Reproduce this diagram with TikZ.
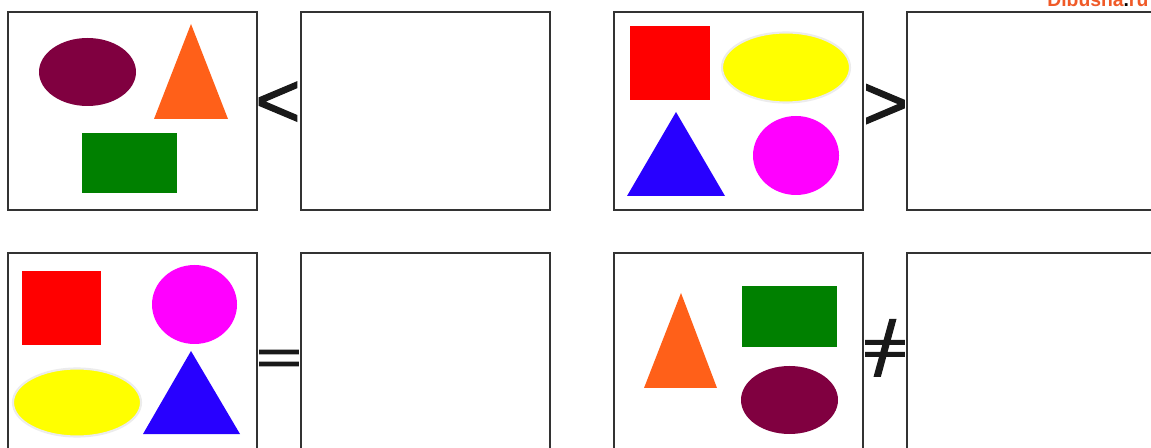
\documentclass[tikz,border=0pt]{standalone}
\usepackage{fontspec}
\newfontfamily\symfont[FakeBold=1.5]{Liberation Sans}
\newfontfamily\barfont[FakeBold=3]{Liberation Sans}
\newfontfamily\markfont{Liberation Sans}
\definecolor{shmaroon}{RGB}{128,0,64}
\definecolor{shorange}{RGB}{255,96,25}
\definecolor{shgreen}{RGB}{0,128,0}
\definecolor{shred}{RGB}{255,0,0}
\definecolor{shyellow}{RGB}{255,255,0}
\definecolor{shblue}{RGB}{40,0,255}
\definecolor{shmagenta}{RGB}{255,0,255}
\definecolor{shrim}{RGB}{236,236,236}
\definecolor{wmorange}{RGB}{240,90,40}

\begin{document}
\begin{tikzpicture}[x=0.02cm,y=-0.02cm,
  frame/.style={draw=black!80,line width=0.6pt,fill=white},
  rel/.style={inner sep=0pt,font=\symfont\fontsize{44}{44}\selectfont,text=black!90},
  rimmed/.style={fill=shyellow,draw=shrim,line width=1.2pt}]
  \useasboundingbox[fill=white] (0,0) rectangle (1151,448);
  % frames
  \draw[frame] (8,12) rectangle (257,210);
  \draw[frame] (301,12) rectangle (550,210);
  \draw[frame] (614,12) rectangle (863,210);
  \draw[frame] (907,12) rectangle (1170,210);
  \draw[frame] (8,253) rectangle (257,470);
  \draw[frame] (301,253) rectangle (550,470);
  \draw[frame] (614,253) rectangle (863,470);
  \draw[frame] (907,253) rectangle (1170,470);
  % first set
  \fill[shmaroon] (87.5,72) ellipse [x radius=48.5,y radius=34];
  \fill[shorange] (191,24) -- (228,119) -- (154,119) -- cycle;
  \fill[shgreen] (82,133) rectangle (177,193);
  % second set
  \fill[shred] (630,26) rectangle (710,100);
  \draw[rimmed] (786,67.5) ellipse [x radius=64,y radius=35];
  \fill[shblue] (676,112) -- (725,196) -- (627,196) -- cycle;
  \fill[shmagenta] (796,155.5) ellipse [x radius=43,y radius=39.5];
  % third set
  \fill[shred] (22,271) rectangle (101,345);
  \fill[shmagenta] (194.5,304.5) ellipse [x radius=42.5,y radius=39.5];
  \draw[rimmed] (77,402.5) ellipse [x radius=64,y radius=34];
  \fill[shblue] (191,351) -- (240,434) -- (143,434) -- cycle;
  % fourth set
  \fill[shorange] (681,293) -- (717,388) -- (644,388) -- cycle;
  \fill[shgreen] (742,286) rectangle (837,347);
  \fill[shmaroon] (789.5,400) ellipse [x radius=48.5,y radius=34];
  % relation signs
  \node[rel] (less) at (278,104.5) {<};
  \node[rel] (greater) at (885.5,107) {>};
  \node[rel,font=\barfont\fontsize{44}{44}\selectfont,yscale=0.62] (equal) at (279,362) {=};
  \node[rel] (noteq) at (885,358.5)
    {\ooalign{\hfil\raisebox{6.5pt}{\scalebox{1}[0.62]{\barfont=}}\hfil\cr\hfil/\hfil}};
  % watermark
  \node[anchor=base west,inner sep=0pt,font=\markfont\bfseries\fontsize{11}{11}\selectfont,text=wmorange] (mark) at (1047,7) {Dibusha\textcolor{black}{.}ru};
\end{tikzpicture}
\end{document}
